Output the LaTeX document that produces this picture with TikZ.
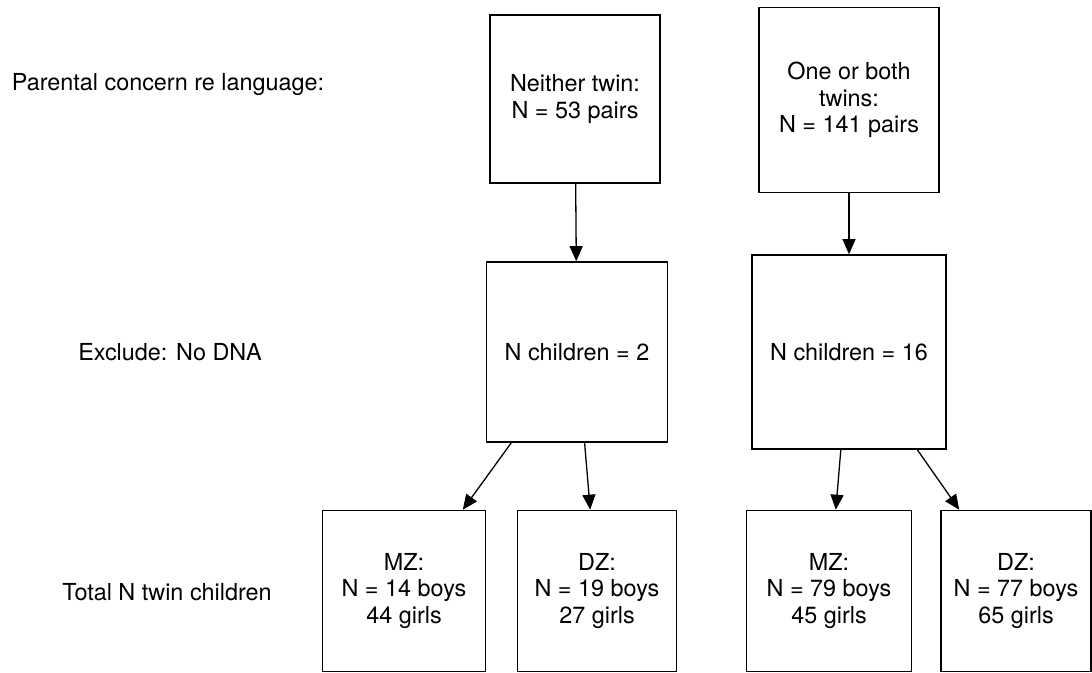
\documentclass[tikz,border=0pt]{standalone}
\usepackage{fontspec}
\setmainfont{TeX Gyre Heros}
\usetikzlibrary{arrows.meta}

\newlength{\du}
\setlength{\du}{0.5pt}

\tikzset{
  twinbox/.style={draw=black, line width=0.8pt, align=center, inner sep=0pt,
    font=\fontsize{11.7}{13.4}\selectfont},
  rowlabel/.style={align=center, font=\fontsize{11.7}{13.4}\selectfont},
  flow/.style={line width=0.65pt, -{Triangle[length=7.5pt,width=6.5pt]}}
}

\begin{document}
\begin{tikzpicture}
\useasboundingbox (0\du,0\du) rectangle (1092\du,-673\du);
% row labels
\node[rowlabel] (lconcern) at (168\du,-85\du){Parental concern re language:};
\node[rowlabel] (lexclude) at (170\du,-352\du){Exclude: No DNA};
\node[rowlabel] (ltotal) at (167\du,-592\du){Total N twin children};
% concern
\node[twinbox, minimum width=170\du, minimum height=168\du] (neither) at (575\du,-99\du){Neither twin:\\N = 53 pairs};
\node[twinbox, minimum width=180\du, minimum height=185\du] (oneboth) at (849\du,-100\du){One or both\\twins:\\N = 141 pairs};
% no DNA
\node[twinbox, minimum width=181\du, minimum height=180\du] (exclA) at (577\du,-352\du){N children = 2};
\node[twinbox, minimum width=194\du, minimum height=194\du] (exclB) at (849\du,-352\du){N children = 16};
% twin children
\node[twinbox, minimum width=163\du, minimum height=161\du] (mzA) at (404\du,-591\du){MZ:\\N = 14 boys\\44 girls};
\node[twinbox, minimum width=159\du, minimum height=161\du] (dzA) at (597\du,-591\du){DZ:\\N = 19 boys\\27 girls};
\node[twinbox, minimum width=165\du, minimum height=161\du] (mzB) at (829\du,-591\du){MZ:\\N = 79 boys\\45 girls};
\node[twinbox, minimum width=150\du, minimum height=161\du] (dzB) at (1016\du,-591\du){DZ:\\N = 77 boys\\65 girls};
% arrows
\draw[flow] (neither) -- (exclA);
\draw[flow] (oneboth) -- (exclB);
\draw[flow] (exclA) -- (mzA);
\draw[flow] (exclA) -- (dzA);
\draw[flow] (exclB) -- (mzB);
\draw[flow] (exclB) -- (dzB);
\end{tikzpicture}
\end{document}
